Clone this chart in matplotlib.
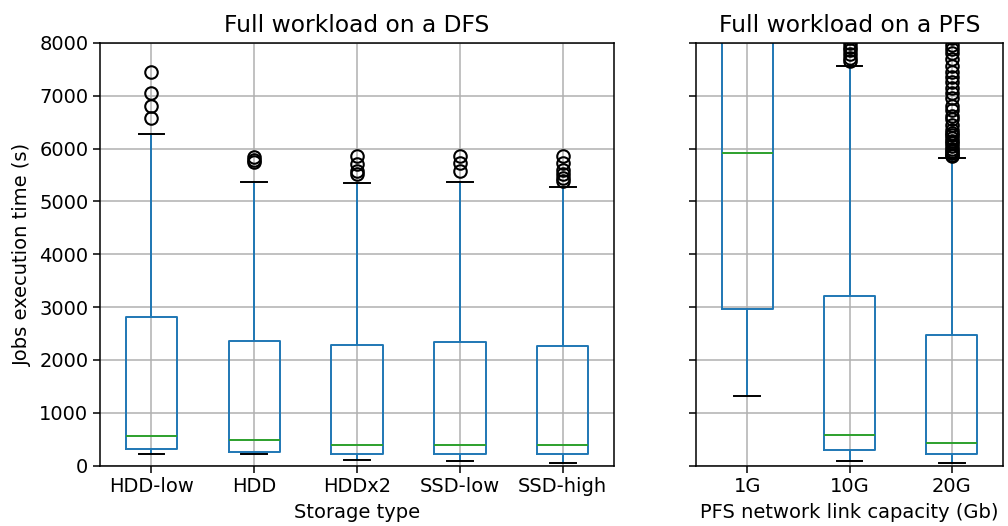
import numpy as np
import matplotlib

matplotlib.use('Agg')
import matplotlib.pyplot as plt

# box statistics (seconds)
dfs_labels = ['HDD-low', 'HDD', 'HDDx2', 'SSD-low', 'SSD-high']
dfs_whislo = [222, 215, 108, 82, 57]
dfs_q1 = [323, 259, 215, 215, 215]
dfs_med = [557, 494, 399, 392, 392]
dfs_q3 = [2804, 2361, 2291, 2335, 2266]
dfs_whishi = [6270, 5370, 5355, 5365, 5275]
dfs_fliers = [
    [6570, 6800, 7050, 7450],
    [5740, 5790, 5840],
    [5520, 5570, 5700, 5850],
    [5580, 5720, 5850],
    [5380, 5450, 5520, 5600, 5730, 5850],
]

pfs_labels = ['1G', '10G', '20G']
pfs_whislo = [1320, 94, 57]
pfs_q1 = [2970, 289, 214]
pfs_med = [5920, 585, 428]
pfs_q3 = [9800, 3220, 2472]
pfs_whishi = [14000, 7560, 5830]
pfs_fliers = [
    [],
    [7660, 7720, 7790, 7860, 7930, 7990, 8100],
    [5850, 5880, 5920, 5960, 6000, 6050, 6100, 6150, 6200, 6250, 6300,
     6350, 6450, 6550, 6620, 6720, 6800, 6950, 7050, 7150, 7250, 7350,
     7450, 7570, 7700, 7800, 7880, 7950, 8100],
]

lw = 1.4


def make_stats(labels, whislo, q1, med, q3, whishi, fliers):
    stats = []
    for i in range(len(labels)):
        stats.append(dict(label=labels[i], whislo=whislo[i], q1=q1[i], med=med[i],
                          q3=q3[i], whishi=whishi[i], fliers=np.array(fliers[i])))
    return stats


def draw(ax, stats):
    ax.bxp(stats, widths=0.5,
           boxprops=dict(color='#1f77b4', lw=lw),
           whiskerprops=dict(color='#1f77b4', lw=lw),
           capprops=dict(color='black', lw=lw),
           medianprops=dict(color='#2ca02c', lw=lw),
           flierprops=dict(marker='o', markerfacecolor='none', markeredgecolor='black',
                           markersize=9, markeredgewidth=1.5))
    ax.grid(True, color='#b0b0b0', lw=1.1)
    ax.set_axisbelow(True)
    ax.set_ylim(0, 8000)
    ax.set_xlim(0.5, len(stats) + 0.5)
    ax.tick_params(labelsize=14, length=4.9, width=1.1)
    for sp in ax.spines.values():
        sp.set_linewidth(1.1)


fig = plt.figure(figsize=(10.08, 5.26), dpi=100)
ax1 = fig.add_axes([0.0992, 0.1146, 0.510, 0.804])
ax2 = fig.add_axes([0.6905, 0.1146, 0.3046, 0.804])

draw(ax1, make_stats(dfs_labels, dfs_whislo, dfs_q1, dfs_med, dfs_q3, dfs_whishi, dfs_fliers))
draw(ax2, make_stats(pfs_labels, pfs_whislo, pfs_q1, pfs_med, pfs_q3, pfs_whishi, pfs_fliers))

ax1.set_title('Full workload on a DFS', fontsize=16.8, pad=8)
ax2.set_title('Full workload on a PFS', fontsize=16.8, pad=8)
ax1.set_xlabel('Storage type', fontsize=14, labelpad=5)
ax2.set_xlabel('PFS network link capacity (Gb)', fontsize=14, labelpad=5)
ax1.set_ylabel('Jobs execution time (s)', fontsize=14, labelpad=5)
ax2.tick_params(labelleft=False)

plt.savefig('out.png', dpi=100)
plt.close()
